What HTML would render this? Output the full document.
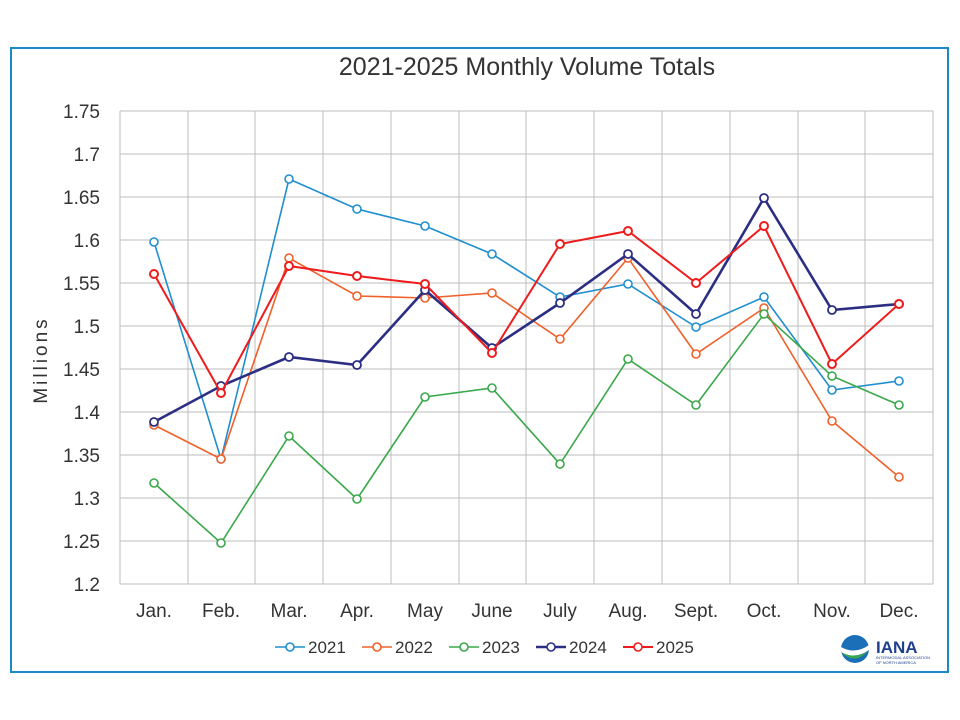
<!DOCTYPE html><html><head><style>body{margin:0;background:#fff}svg{display:block}text{font-family:"Liberation Sans",sans-serif}</style></head><body>
<svg width="960" height="720" viewBox="0 0 960 720" xmlns="http://www.w3.org/2000/svg">
<rect x="0" y="0" width="960" height="720" fill="#fff"/>
<rect x="11" y="48" width="937" height="624" fill="none" stroke="#1a88c9" stroke-width="2"/>
<text x="527" y="75" font-size="25" text-anchor="middle" fill="#333">2021-2025 Monthly Volume Totals</text>
<g stroke="#bdbdbd" stroke-width="1">
<line x1="120" y1="111" x2="933" y2="111"/><line x1="120" y1="154" x2="933" y2="154"/><line x1="120" y1="197" x2="933" y2="197"/><line x1="120" y1="240" x2="933" y2="240"/><line x1="120" y1="283" x2="933" y2="283"/><line x1="120" y1="326" x2="933" y2="326"/><line x1="120" y1="369" x2="933" y2="369"/><line x1="120" y1="412" x2="933" y2="412"/><line x1="120" y1="455" x2="933" y2="455"/><line x1="120" y1="498" x2="933" y2="498"/><line x1="120" y1="541" x2="933" y2="541"/><line x1="120" y1="584" x2="933" y2="584"/>
<line x1="120" y1="111" x2="120" y2="584"/><line x1="188" y1="111" x2="188" y2="584"/><line x1="255" y1="111" x2="255" y2="584"/><line x1="323" y1="111" x2="323" y2="584"/><line x1="391" y1="111" x2="391" y2="584"/><line x1="459" y1="111" x2="459" y2="584"/><line x1="526" y1="111" x2="526" y2="584"/><line x1="594" y1="111" x2="594" y2="584"/><line x1="662" y1="111" x2="662" y2="584"/><line x1="730" y1="111" x2="730" y2="584"/><line x1="798" y1="111" x2="798" y2="584"/><line x1="865" y1="111" x2="865" y2="584"/><line x1="933" y1="111" x2="933" y2="584"/>
</g>
<g font-size="19" fill="#333" text-anchor="end">
<text x="100" y="118">1.75</text><text x="100" y="161">1.7</text><text x="100" y="204">1.65</text><text x="100" y="247">1.6</text><text x="100" y="290">1.55</text><text x="100" y="333">1.5</text><text x="100" y="376">1.45</text><text x="100" y="419">1.4</text><text x="100" y="462">1.35</text><text x="100" y="505">1.3</text><text x="100" y="548">1.25</text><text x="100" y="591">1.2</text>
</g>
<text transform="translate(47,360) rotate(-90)" font-size="19" fill="#333" text-anchor="middle" letter-spacing="3">Millions</text>
<g font-size="19" fill="#333" text-anchor="middle">
<text x="154" y="617">Jan.</text><text x="221" y="617">Feb.</text><text x="289" y="617">Mar.</text><text x="357" y="617">Apr.</text><text x="425" y="617">May</text><text x="492" y="617">June</text><text x="560" y="617">July</text><text x="628" y="617">Aug.</text><text x="696" y="617">Sept.</text><text x="764" y="617">Oct.</text><text x="832" y="617">Nov.</text><text x="899" y="617">Dec.</text>
</g>
<g fill="#fff" stroke-width="1.6">
<g stroke="#1f8fcf"><polyline fill="none" points="154,242 221,459 289,179 357,209 425,226 492,254 560,297 628,284 696,327 764,297 832,390 899,381"/>
<circle cx="154" cy="242" r="4"/><circle cx="221" cy="459" r="4"/><circle cx="289" cy="179" r="4"/><circle cx="357" cy="209" r="4"/><circle cx="425" cy="226" r="4"/><circle cx="492" cy="254" r="4"/><circle cx="560" cy="297" r="4"/><circle cx="628" cy="284" r="4"/><circle cx="696" cy="327" r="4"/><circle cx="764" cy="297" r="4"/><circle cx="832" cy="390" r="4"/><circle cx="899" cy="381" r="4"/></g>
<g stroke="#f0602a"><polyline fill="none" points="154,425 221,459 289,258 357,296 425,298 492,293 560,339 628,258 696,354 764,308 832,421 899,477"/>
<circle cx="154" cy="425" r="4"/><circle cx="221" cy="459" r="4"/><circle cx="289" cy="258" r="4"/><circle cx="357" cy="296" r="4"/><circle cx="425" cy="298" r="4"/><circle cx="492" cy="293" r="4"/><circle cx="560" cy="339" r="4"/><circle cx="628" cy="258" r="4"/><circle cx="696" cy="354" r="4"/><circle cx="764" cy="308" r="4"/><circle cx="832" cy="421" r="4"/><circle cx="899" cy="477" r="4"/></g>
<g stroke="#3aa84a"><polyline fill="none" points="154,483 221,543 289,436 357,499 425,397 492,388 560,464 628,359 696,405 764,314 832,376 899,405"/>
<circle cx="154" cy="483" r="4"/><circle cx="221" cy="543" r="4"/><circle cx="289" cy="436" r="4"/><circle cx="357" cy="499" r="4"/><circle cx="425" cy="397" r="4"/><circle cx="492" cy="388" r="4"/><circle cx="560" cy="464" r="4"/><circle cx="628" cy="359" r="4"/><circle cx="696" cy="405" r="4"/><circle cx="764" cy="314" r="4"/><circle cx="832" cy="376" r="4"/><circle cx="899" cy="405" r="4"/></g>
<g stroke="#2b2e82" stroke-width="2.6"><polyline fill="none" points="154,422 221,386 289,357 357,365 425,290 492,348 560,303 628,254 696,314 764,198 832,310 899,304"/>
<g stroke-width="1.8"><circle cx="154" cy="422" r="4"/><circle cx="221" cy="386" r="4"/><circle cx="289" cy="357" r="4"/><circle cx="357" cy="365" r="4"/><circle cx="425" cy="290" r="4"/><circle cx="492" cy="348" r="4"/><circle cx="560" cy="303" r="4"/><circle cx="628" cy="254" r="4"/><circle cx="696" cy="314" r="4"/><circle cx="764" cy="198" r="4"/><circle cx="832" cy="310" r="4"/><circle cx="899" cy="304" r="4"/></g></g>
<g stroke="#ee1c1c" stroke-width="2"><polyline fill="none" points="154,274 221,393 289,266 357,276 425,284 492,353 560,244 628,231 696,283 764,226 832,364 899,304"/>
<circle cx="154" cy="274" r="4"/><circle cx="221" cy="393" r="4"/><circle cx="289" cy="266" r="4"/><circle cx="357" cy="276" r="4"/><circle cx="425" cy="284" r="4"/><circle cx="492" cy="353" r="4"/><circle cx="560" cy="244" r="4"/><circle cx="628" cy="231" r="4"/><circle cx="696" cy="283" r="4"/><circle cx="764" cy="226" r="4"/><circle cx="832" cy="364" r="4"/><circle cx="899" cy="304" r="4"/></g>
</g>
<g font-size="17" fill="#333" stroke-width="1.6">
<line x1="275" y1="647" x2="305" y2="647" stroke="#1f8fcf"/><circle cx="290" cy="647" r="4" fill="#fff" stroke="#1f8fcf"/><text x="308" y="653">2021</text>
<line x1="362" y1="647" x2="392" y2="647" stroke="#f0602a"/><circle cx="377" cy="647" r="4" fill="#fff" stroke="#f0602a"/><text x="395" y="653">2022</text>
<line x1="449" y1="647" x2="479" y2="647" stroke="#3aa84a"/><circle cx="464" cy="647" r="4" fill="#fff" stroke="#3aa84a"/><text x="482" y="653">2023</text>
<line x1="536" y1="647" x2="566" y2="647" stroke="#2b2e82" stroke-width="2.6"/><circle cx="551" cy="647" r="4" fill="#fff" stroke="#2b2e82"/><text x="569" y="653">2024</text>
<line x1="623" y1="647" x2="653" y2="647" stroke="#ee1c1c" stroke-width="2"/><circle cx="638" cy="647" r="4" fill="#fff" stroke="#ee1c1c"/><text x="656" y="653">2025</text>
</g>
<circle cx="855" cy="649" r="14" fill="#1a6fb8"/>
<path d="M841,652 Q855,666 869,650 Q858,660 841,652Z" fill="#3aa84a"/>
<path d="M841,647 Q855,655 869,645 L869,650 Q855,660 841,652Z" fill="#fff"/>
<text x="876" y="653" font-size="17" font-weight="bold" fill="#1f3f8f">IANA</text>
<text x="876" y="659" font-size="4" fill="#1f3f8f">INTERMODAL ASSOCIATION</text>
<text x="876" y="664" font-size="4" fill="#1f3f8f">OF NORTH AMERICA</text>
</svg></body></html>
